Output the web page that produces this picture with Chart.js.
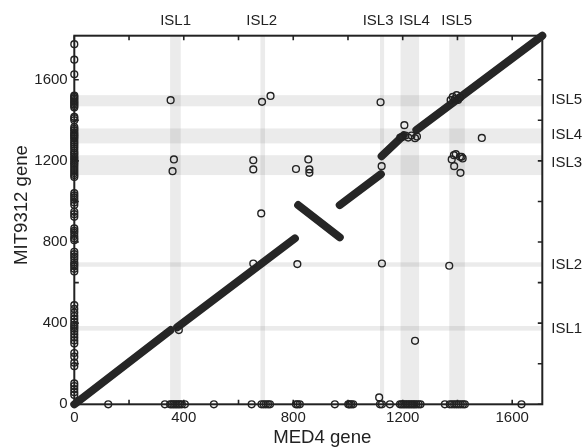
<!DOCTYPE html>
<html><head><meta charset="utf-8">
<script src="https://cdn.jsdelivr.net/npm/chart.js@4"></script>
<style>html,body{margin:0;padding:0;background:#fff}</style>
</head><body>
<canvas id="c" width="583" height="447" style="width:583px;height:447px;display:block"></canvas>
<script>
// ---- data ----
const islNames = ['ISL1','ISL2','ISL3','ISL4','ISL5'];
// genomic island ranges (gene index)
const med4Bands = [[350,389],[680,697],[1117,1132],[1192,1260],[1370,1427]];
const mit9312Bands = [[363,386],[678,700],[1130,1228],[1286,1360],[1469,1524]];
const topLabelPos = [370,685,1110,1243,1397];
const rightLabelPos = [371,686,1189,1327,1499];
const xLabelTicks = [0,400,800,1200,1600];
const yLabelTicks = [0,400,800,1200,1600];
const xTickMarks = [0,200,400,600,800,1000,1200,1400,1600];
const yTickMarks = [0,200,400,600,800,1000,1200,1400,1600];

// syntenic ortholog runs (start/end of each collinear block)
const syntenyBlocks = [
  [[0,0],[352,366]],
  [[376,380],[806,818]],
  [[818,982],[970,823]],
  [[970,982],[1120,1134]],
  [[1123,1223],[1203,1326]],
  [[1250,1352],[1710,1817]]
];
// MIT9312 genes without MED4 ortholog (plotted at MED4 = 0)
const mitOnlyY = [1775,1699,1627,1522,1515,1508,1500,1492,1485,1478,1470,1463,1417,1410,1400,
  1367,1358,1350,1340,1332,1325,1318,1310,1300,1290,1282,1272,1262,1250,1240,1232,1222,1214,1205,
  1196,1188,1180,1170,1160,1150,1140,1130,1121,1041,1030,1020,1008,995,982,949,937,924,
  867,855,845,830,818,809,752,740,728,716,700,690,680,668,655,
  489,470,452,435,420,405,392,382,372,360,345,330,315,300,253,235,205,188,103,90,75,60,46];
// MED4 genes without MIT9312 ortholog (plotted at MIT9312 = 0)
const medOnlyX = [124,331,350,356,362,368,374,380,386,393,404,510,648,684,692,700,708,715,810,816,824,
  952,1001,1006,1012,1019,1117,1124,1153,1190,1196,1202,1208,1214,1220,1226,1232,1238,1244,1250,1258,1265,
  1354,1372,1380,1388,1396,1404,1412,1420,1427,1634];
// off-diagonal ortholog pairs [MED4, MIT9312]
const offPairs = [[352,1499],[364,1207],[359,1149],[686,1491],[717,1520],[654,1203],[654,1158],[683,941],
  [810,1160],[855,1207],[859,1158],[859,1141],[1119,1489],[1123,1174],[1206,1376],[1191,1315],[1198,1318],
  [1210,1325],[1220,1315],[1232,1325],[1245,1312],[1252,1320],[1383,1515],[1397,1524],[1409,1512],[1375,1499],
  [1390,1505],[1402,1500],[1489,1313],[1379,1207],[1387,1228],[1394,1233],[1409,1220],[1419,1212],[1415,1220],
  [1388,1174],[1411,1141],[815,691],[1124,694],[1370,683],[1245,313],[1114,34],[654,694],[382,366]];

const X_MAX = 1710, Y_MAX = 1817;
const FONT = "'Liberation Sans', Arial, Helvetica, sans-serif";
const INK = '#222';

// ---- build datasets ----
const lineSets = syntenyBlocks.map(seg => ({
  data: seg.map(p => ({x:p[0], y:p[1]})),
  showLine: true, pointRadius: 0, borderWidth: 8, borderColor: '#262626',
  borderCapStyle: 'round', clip: false, order: 2
}));
const pts = [];
mitOnlyY.forEach(v => pts.push({x:0, y:v}));
medOnlyX.forEach(v => pts.push({x:v, y:0}));
offPairs.forEach(p => pts.push({x:p[0], y:p[1]}));
const pointSet = {
  data: pts, showLine: false, pointRadius: 3.4, pointBorderWidth: 1.4,
  pointBorderColor: INK, pointBackgroundColor: 'rgba(0,0,0,0)', clip: false, order: 1
};

const framePlugin = {
  id: 'frame',
  beforeDatasetsDraw(chart) {
    const {ctx, chartArea: a, scales: {x, y}} = chart;
    ctx.save();
    ctx.fillStyle = 'rgba(0,0,0,0.08)';
    for (const [lo, hi] of med4Bands) {
      const x0 = x.getPixelForValue(lo), x1 = x.getPixelForValue(hi);
      ctx.fillRect(x0, a.top, x1 - x0, a.bottom - a.top);
    }
    for (const [lo, hi] of mit9312Bands) {
      const y0 = y.getPixelForValue(hi), y1 = y.getPixelForValue(lo);
      ctx.fillRect(a.left, y0, a.right - a.left, y1 - y0);
    }
    ctx.strokeStyle = INK;
    ctx.lineWidth = 2;
    ctx.strokeRect(a.left, a.top, a.right - a.left, a.bottom - a.top);
    ctx.lineWidth = 1.6;
    const L = 4.5;
    ctx.beginPath();
    for (const v of xTickMarks) {
      const px = x.getPixelForValue(v);
      ctx.moveTo(px, a.bottom); ctx.lineTo(px, a.bottom - L);
      ctx.moveTo(px, a.top); ctx.lineTo(px, a.top + L);
    }
    for (const v of yTickMarks) {
      const py = y.getPixelForValue(v);
      ctx.moveTo(a.left, py); ctx.lineTo(a.left + L, py);
      ctx.moveTo(a.right, py); ctx.lineTo(a.right - L, py);
    }
    ctx.stroke();
    ctx.restore();
  },
  afterDraw(chart) {
    const {ctx, chartArea: a} = chart;
    ctx.save();
    ctx.fillStyle = INK;
    ctx.font = '18.6px ' + FONT;
    ctx.textAlign = 'center';
    ctx.textBaseline = 'alphabetic';
    ctx.fillText('MED4 gene', a.left + (a.right - a.left) / 2 + 14, 443);
    ctx.translate(26.5, a.top + (a.bottom - a.top) / 2 - 15);
    ctx.rotate(-Math.PI / 2);
    ctx.fillText('MIT9312 gene', 0, 0);
    ctx.restore();
  }
};

const tickFont = {family: FONT, size: 15};
const noGrid = {display: false, drawTicks: false, tickLength: 0};

new Chart(document.getElementById('c'), {
  type: 'scatter',
  data: { datasets: [...lineSets, pointSet] },
  options: {
    responsive: false, animation: false, devicePixelRatio: 1,
    layout: { padding: 0 },
    plugins: { legend: {display: false}, tooltip: {enabled: false} },
    scales: {
      x: {
        type: 'linear', position: 'bottom', min: 0, max: X_MAX,
        afterFit(s) { s.height = 42.7; },
        afterBuildTicks(s) { s.ticks = xLabelTicks.map(v => ({value: v})); },
        ticks: { autoSkip: false, maxRotation: 0, padding: 4.5, color: INK, font: tickFont,
                 callback: v => String(v) },
        grid: noGrid, border: {display: false}
      },
      x2: {
        type: 'linear', position: 'top', min: 0, max: X_MAX,
        afterFit(s) { s.height = 35.7; },
        afterBuildTicks(s) { s.ticks = topLabelPos.map(v => ({value: v})); },
        ticks: { autoSkip: false, maxRotation: 0, padding: 6, color: INK, font: tickFont,
                 callback: (v, i) => islNames[i] },
        grid: noGrid, border: {display: false}
      },
      y: {
        type: 'linear', position: 'left', min: 0, max: Y_MAX,
        afterFit(s) { s.width = 74.3; },
        afterBuildTicks(s) { s.ticks = yLabelTicks.map(v => ({value: v})); },
        ticks: { autoSkip: false, padding: 6.6, color: INK, font: tickFont,
                 callback: v => String(v) },
        grid: noGrid, border: {display: false}
      },
      y2: {
        type: 'linear', position: 'right', min: 0, max: Y_MAX,
        afterFit(s) { s.width = 40.7; },
        afterBuildTicks(s) { s.ticks = rightLabelPos.map(v => ({value: v})); },
        ticks: { autoSkip: false, padding: 9, color: INK, font: tickFont,
                 callback: (v, i) => islNames[i] },
        grid: noGrid, border: {display: false}
      }
    }
  },
  plugins: [framePlugin]
});
</script>
</body></html>
